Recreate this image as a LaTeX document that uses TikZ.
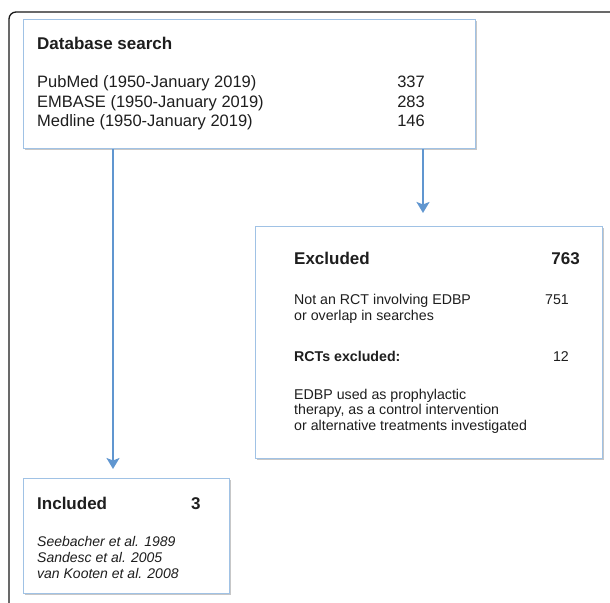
\documentclass[tikz,border=0pt]{standalone}
\usepackage{fontspec}
\setmainfont{Liberation Sans}
\usetikzlibrary{arrows.meta,shadows}
\definecolor{boxline}{HTML}{A0C2E5}
\definecolor{arrowblue}{HTML}{6096D0}
\definecolor{txt}{HTML}{1E1E1E}
\tikzset{
  box/.style={draw=boxline, line width=1.4pt, fill=white, anchor=north west, inner sep=0pt,
    drop shadow={shadow xshift=1.2pt, shadow yshift=-1.5pt, opacity=0.22, fill=black}},
  arr/.style={draw=arrowblue, line width=2.4pt, -{Stealth[length=11pt,width=13pt,inset=2.5pt]}},
  hd/.style={anchor=base west, inner sep=0pt, text=txt, font=\fontsize{17}{20}\selectfont\bfseries},
  big/.style={anchor=base west, inner sep=0pt, text=txt, font=\fontsize{16.5}{19}\selectfont},
  bignum/.style={anchor=base east, inner sep=0pt, text=txt, font=\fontsize{16.5}{19}\selectfont},
  sm/.style={anchor=base west, inner sep=0pt, text=txt, font=\fontsize{14.2}{16}\selectfont},
  smnum/.style={anchor=base east, inner sep=0pt, text=txt, font=\fontsize{14.2}{16}\selectfont},
  smbold/.style={anchor=base west, inner sep=0pt, text=txt, font=\fontsize{14.2}{16}\selectfont\bfseries},
  it/.style={anchor=base west, inner sep=0pt, text=txt, font=\fontsize{14}{16}\selectfont\itshape},
}
\begin{document}
\begin{tikzpicture}[x=1pt,y=-1pt]
\useasboundingbox (0,0) rectangle (610,602);
% outer frame
\draw[line width=1.3pt, black!90, rounded corners=7pt] (612,12) -- (9,12) -- (9,604);

% boxes
\node[box, minimum width=452pt, minimum height=129pt] (db) at (23,19) {};
\node[box, minimum width=347pt, minimum height=232pt] (exc) at (255,226) {};
\node[box, minimum width=206pt, minimum height=115pt] (inc) at (23,478) {};

% connectors
\coordinate (la) at (113,300);
\coordinate (ra) at (423,190);
\draw[arr, shorten >=9pt] (db.south -| la) -- (inc.north -| la);
\draw[arr, shorten >=13pt] (db.south -| ra) -- (exc.north -| ra);

% database text
\node[hd] (dbh) at (37,49) {Database search};
\node[big] (r1) at (37,88) {PubMed (1950-January 2019)};
\node[big] (r2) at (37,107.5) {EMBASE (1950-January 2019)};
\node[big] (r3) at (37,126) {Medline (1950-January 2019)};
\node[bignum] (n1) at (425,88) {337};
\node[bignum] (n2) at (425,107.5) {283};
\node[bignum] (n3) at (425,126) {146};

% excluded text
\node[hd] (exh) at (294,264) {Excluded};
\node[hd, anchor=base east] (exn) at (580,264) {763};
\node[sm] (e1) at (294,304.5) {Not an RCT involving EDBP};
\node[sm] (e2) at (294,320.5) {or overlap in searches};
\node[smnum] (en1) at (569,304.5) {751};
\node[smbold] (e3) at (294,361) {RCTs excluded:};
\node[smnum] (en2) at (569,361) {12};
\node[sm] (e4) at (294,399) {EDBP used as prophylactic};
\node[sm] (e5) at (294,414.5) {therapy, as a control intervention};
\node[sm] (e6) at (294,430) {or alternative treatments investigated};

% included text
\node[hd] (inh) at (37,509) {Included};
\node[hd] (inn) at (191,509) {3};
\node[it] (i1) at (37,546) {Seebacher et al. 1989};
\node[it] (i2) at (37,562) {Sandesc et al. 2005};
\node[it] (i3) at (37,578) {van Kooten et al. 2008};
\end{tikzpicture}
\end{document}
